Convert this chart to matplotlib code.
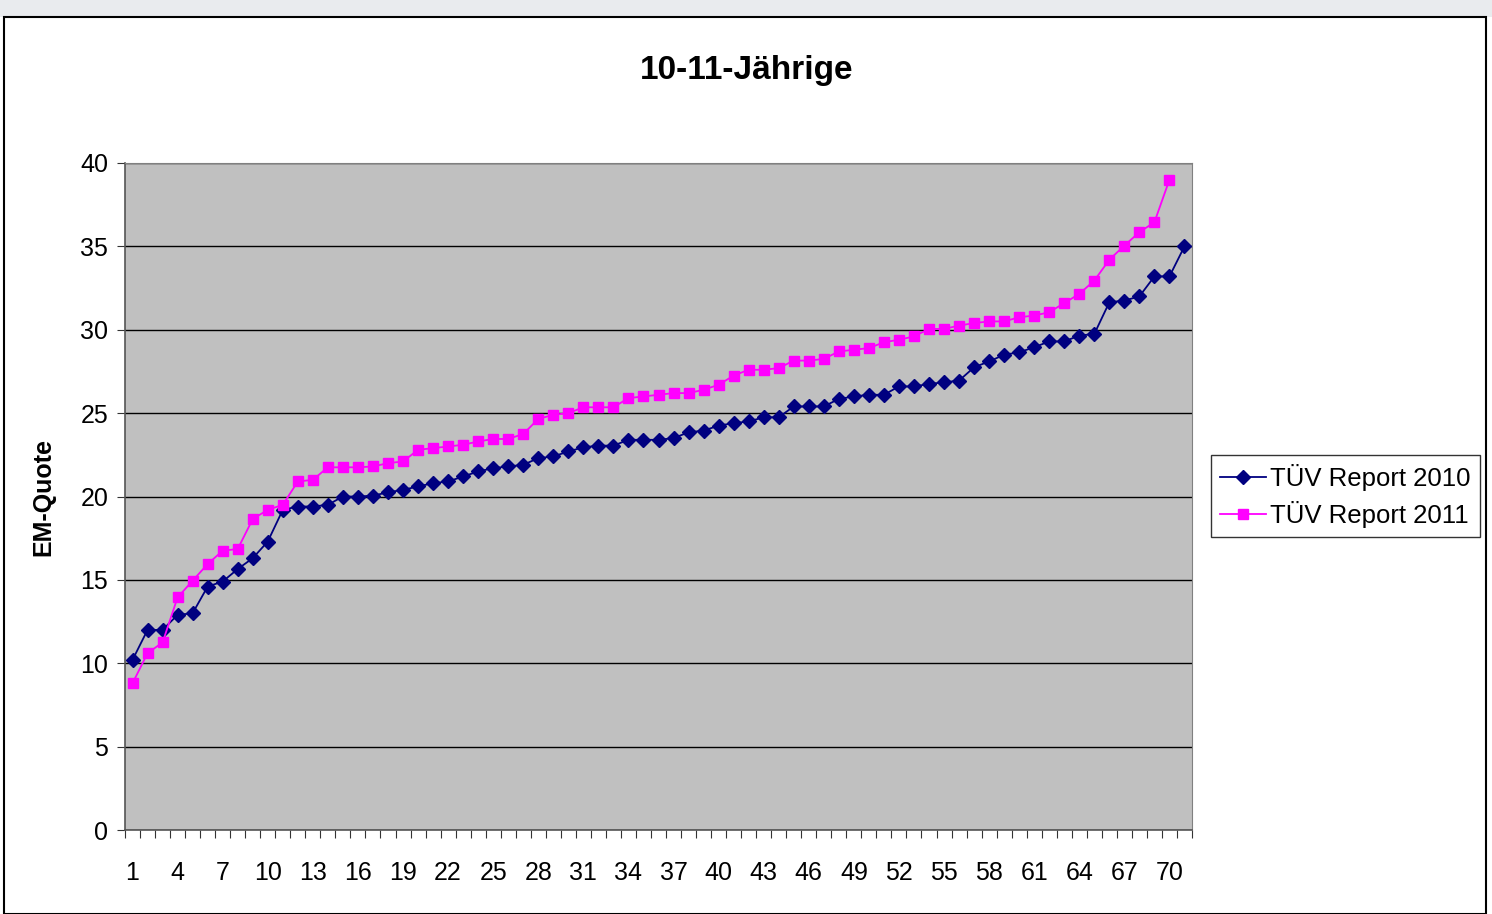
import matplotlib
matplotlib.use("Agg")
import matplotlib.pyplot as plt
from matplotlib.patches import Rectangle
import numpy as np

plt.rcParams["font.family"] = ["Liberation Sans", "DejaVu Sans"]

# Daten: EM-Quote je Rangplatz
werte_2010 = [10.2, 12.0, 12.0, 12.9, 13.0, 14.6, 14.9, 15.65, 16.3, 17.3,
              19.2, 19.4, 19.4, 19.5, 20.0, 20.0, 20.05, 20.25, 20.4, 20.6,
              20.8, 20.9, 21.2, 21.5, 21.7, 21.8, 21.9, 22.3, 22.4, 22.7,
              22.95, 23.05, 23.05, 23.4, 23.4, 23.4, 23.5, 23.85, 23.95, 24.25,
              24.4, 24.5, 24.75, 24.75, 25.4, 25.4, 25.4, 25.85, 26.0, 26.1,
              26.1, 26.6, 26.6, 26.75, 26.85, 26.95, 27.75, 28.1, 28.5, 28.65,
              28.95, 29.3, 29.3, 29.65, 29.75, 31.65, 31.75, 32.0, 33.2, 33.2,
              35.0]
werte_2011 = [8.8, 10.6, 11.25, 13.95, 14.95, 15.95, 16.75, 16.85, 18.65, 19.2,
              19.5, 20.9, 21.0, 21.75, 21.75, 21.75, 21.8, 22.0, 22.1, 22.8,
              22.9, 23.0, 23.1, 23.3, 23.45, 23.45, 23.75, 24.65, 24.9, 25.0,
              25.35, 25.35, 25.35, 25.9, 26.0, 26.1, 26.2, 26.2, 26.4, 26.7,
              27.25, 27.6, 27.6, 27.7, 28.15, 28.15, 28.25, 28.7, 28.8, 28.9,
              29.25, 29.4, 29.6, 30.05, 30.05, 30.25, 30.4, 30.5, 30.5, 30.75,
              30.85, 31.05, 31.6, 32.15, 32.95, 34.2, 35.05, 35.85, 36.45, 39.0]
n_kategorien = 71
x_labels = list(range(1, n_kategorien + 1, 3))
y_ticks = list(range(0, 41, 5))

W, H = 1492, 914
fig = plt.figure(figsize=(W / 100, H / 100), dpi=100)
fig.patch.set_facecolor("white")
# grauer Streifen oben + Rahmen des Diagrammbereichs
fig.patches.append(Rectangle((0, 1 - 17 / H), 1, 17 / H, transform=fig.transFigure,
                             facecolor="#E9EBEE", edgecolor="none", zorder=0))
fig.patches.append(Rectangle((4 / W, 0), (1486 - 4) / W, 1 - 17 / H, transform=fig.transFigure,
                             facecolor="none", edgecolor="black", linewidth=1.5, zorder=1))

ax = fig.add_axes([125 / W, (H - 830) / H, 1067 / W, 667 / H])
ax.set_facecolor("#C0C0C0")

x10 = np.arange(1, len(werte_2010) + 1)
x11 = np.arange(1, len(werte_2011) + 1)
ax.plot(x10, werte_2010, color="#000080", marker="D", markersize=7.5, linewidth=1.3,
        label="TÜV Report 2010", zorder=3)
ax.plot(x11, werte_2011, color="#FF00FF", marker="s", markersize=7.5, linewidth=1.3,
        label="TÜV Report 2011", zorder=3)

ax.set_xlim(0.5, n_kategorien + 0.5)
ax.set_ylim(0, 40)
ax.set_yticks(y_ticks)
ax.set_yticklabels([str(v) for v in y_ticks], fontsize=18)
ax.yaxis.grid(True, color="black", linewidth=1)
ax.set_axisbelow(True)

# Excel-artige Kategorienachse: Striche zwischen den Kategorien, Beschriftung mittig
ax.set_xticks(np.arange(0.5, n_kategorien + 1, 1))
ax.set_xticklabels([])
ax.set_xticks(x_labels, minor=True)
ax.set_xticklabels([str(v) for v in x_labels], minor=True, fontsize=18)
ax.tick_params(axis="x", which="major", length=6, direction="out", color="#333333")
ax.tick_params(axis="x", which="minor", length=0, pad=22)
ax.tick_params(axis="y", length=6, direction="out", pad=6, color="#333333")

for side in ["top", "right"]:
    ax.spines[side].set_color("#808080")
for side in ["left", "bottom"]:
    ax.spines[side].set_color("#555555")
    ax.spines[side].set_linewidth(1.2)

ax.set_ylabel("EM-Quote", fontsize=18, fontweight="bold", labelpad=18)
fig.text(747 / W, 1 - 70 / H, "10-11-Jährige", fontsize=24, fontweight="bold",
         ha="center", va="center")

leg = ax.legend(loc="center left", bbox_to_anchor=(1211 / W, 1 - 496 / H),
                bbox_transform=fig.transFigure, fontsize=18.5, frameon=True,
                fancybox=False, edgecolor="black", borderpad=0.35,
                handlelength=1.8, handletextpad=0.15, labelspacing=0.4,
                borderaxespad=0)
leg.get_frame().set_linewidth(1)

fig.savefig("out.png", dpi=100)
